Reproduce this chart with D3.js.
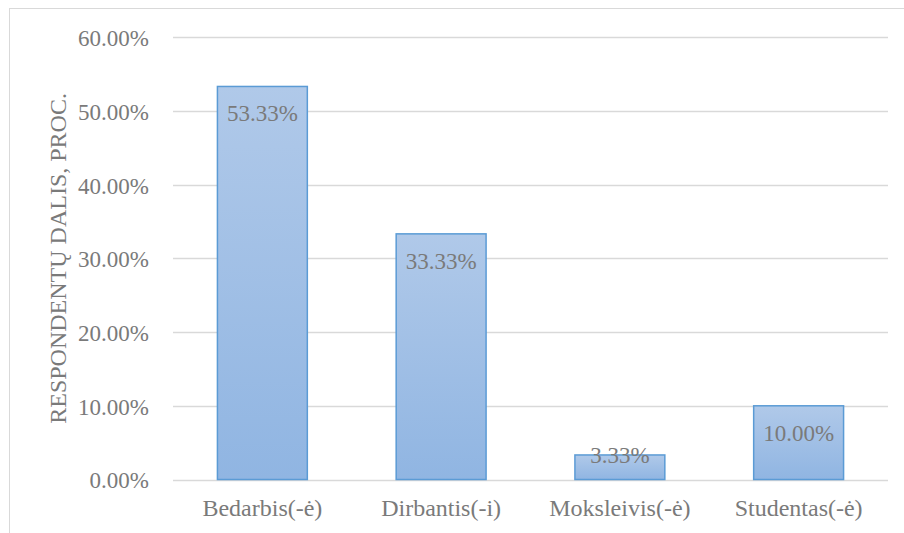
<!DOCTYPE html>
<html><head><meta charset="utf-8">
<script src="https://cdn.jsdelivr.net/npm/d3@7"></script>
<style>html,body{margin:0;padding:0;background:#fff;}svg{display:block;}</style>
</head><body>
<script>
const categories = ["Bedarbis(-ė)", "Dirbantis(-i)", "Moksleivis(-ė)", "Studentas(-ė)"];
const values = [53.33, 33.33, 3.33, 10.00];
const yTicks = [0, 10, 20, 30, 40, 50, 60];
const yTitle = "RESPONDENTŲ DALIS, PROC.";

const W = 904, H = 533;
const m = {left: 173, right: 16, top: 37.3, bottom: 53.5};
const svg = d3.select("body").append("svg").attr("width", W).attr("height", H);

const defs = svg.append("defs");
const grad = defs.append("linearGradient").attr("id", "barGrad")
  .attr("x1", 0).attr("y1", 0).attr("x2", 0).attr("y2", 1);
grad.append("stop").attr("offset", "0%").attr("stop-color", "#b0c9e9");
grad.append("stop").attr("offset", "100%").attr("stop-color", "#90b5e2");

// outer chart border (only top/left visible)
svg.append("rect").attr("x", 9.5).attr("y", 8.5).attr("width", W).attr("height", H)
  .attr("fill", "none").attr("stroke", "#d9d9d9").attr("stroke-width", 1);

const x = d3.scaleBand().domain(categories).range([m.left, W - m.right]).paddingInner(0.497).paddingOuter(0.2485);
const y = d3.scaleLinear().domain([0, 60]).range([H - m.bottom, m.top]);

const FONT = '"Liberation Serif"';
const txt = "#7a7a7a";
function styleText(sel, fs) {
  sel.style("font-family", FONT).style("font-size", fs + "px").style("fill", txt);
}

// gridlines
svg.append("g").selectAll("line").data(yTicks).join("line")
  .attr("x1", m.left).attr("x2", W - m.right)
  .attr("y1", d => Math.round(y(d)) + 0.5).attr("y2", d => Math.round(y(d)) + 0.5)
  .attr("stroke", "#d9d9d9").attr("stroke-width", 1.5);

// y axis labels
const yAxis = d3.axisLeft(y).tickValues(yTicks).tickFormat(d => d.toFixed(2) + "%").tickSize(0).tickPadding(24);
const ga = svg.append("g").attr("transform", `translate(${m.left},1)`).call(yAxis);
ga.select(".domain").remove();
ga.selectAll("text").call(styleText, 23);

// bars
svg.append("g").selectAll("rect").data(values).join("rect")
  .attr("x", (d, i) => x(categories[i]))
  .attr("y", d => y(d))
  .attr("width", x.bandwidth())
  .attr("height", d => y(0) - y(d))
  .attr("fill", "url(#barGrad)")
  .attr("stroke", "#5b9bd5").attr("stroke-width", 1.5);

// data labels
svg.append("g").selectAll("text").data(values).join("text")
  .attr("x", (d, i) => x(categories[i]) + x.bandwidth() / 2)
  .attr("y", d => Math.min(y(d) + 35, y(0) - 17))
  .attr("text-anchor", "middle")
  .text(d => d.toFixed(2) + "%")
  .call(styleText, 23);

// x axis category labels
const xAxis = d3.axisBottom(x).tickSize(0).tickPadding(19.5);
const gx = svg.append("g").attr("transform", `translate(0,${y(0)})`).call(xAxis);
gx.select(".domain").remove();
gx.selectAll("text").call(styleText, 24);

// y title
svg.append("text")
  .attr("transform", `translate(66,${(y(0) + y(60)) / 2}) rotate(-90)`)
  .attr("text-anchor", "middle")
  .text(yTitle)
  .call(styleText, 24);
</script>
</body></html>
